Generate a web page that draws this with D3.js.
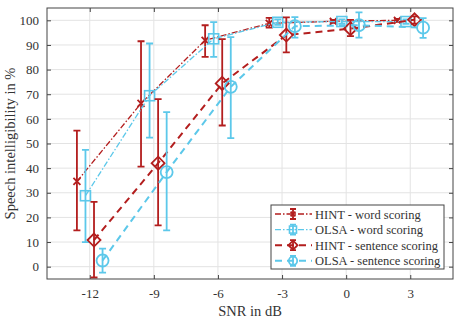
<!DOCTYPE html>
<html><head><meta charset="utf-8">
<script src="https://cdn.jsdelivr.net/npm/d3@7"></script>
<style>body{margin:0;background:#fff}svg{display:block}text{font-family:"Liberation Serif","Times New Roman",serif}</style>
</head><body><svg id="c" width="458" height="322"></svg>
<script>
const snr = [-12, -9, -6, -3, 0, 3];
const xTicks = [-12, -9, -6, -3, 0, 3];
const yTicks = [0, 10, 20, 30, 40, 50, 60, 70, 80, 90, 100];
const seriesNames = ["HINT - word scoring", "OLSA - word scoring", "HINT - sentence scoring", "OLSA - sentence scoring"];
const hintWordMean = [34.6, 66.3, 91.9, 98.8, 99.6, 100];
const hintWordLow  = [14.7, 40.6, 85.2, 97.0, 99.0, 99.4];
const hintWordHigh = [55.2, 91.5, 98.0, 101.0, 100.2, 100.6];
const olsaWordMean = [28.8, 69.4, 92.5, 99.2, 99.5, 99.5];
const olsaWordLow  = [10.0, 52.4, 85.2, 98.2, 98.6, 98.6];
const olsaWordHigh = [47.4, 90.6, 99.3, 100.4, 100.4, 100.4];
const hintSentMean = [10.8, 42.0, 74.4, 94.0, 96.6, 100.2];
const hintSentLow  = [-4.4, 16.8, 57.3, 87.0, 93.6, 98.6];
const hintSentHigh = [26.3, 68.0, 92.4, 101.2, 100.2, 101.6];
const olsaSentMean = [2.5, 38.4, 73.0, 97.6, 98.0, 97.0];
const olsaSentLow  = [-2.4, 14.7, 52.2, 93.0, 93.0, 92.9];
const olsaSentHigh = [7.3, 62.7, 93.2, 101.3, 103.2, 100.9];
const offsets = [-0.6, -0.2, 0.2, 0.6];

const red = "#b31e1e", cyan = "#5cc8ea";
const series = [
  {name: seriesNames[0], mean: hintWordMean, lo: hintWordLow, hi: hintWordHigh, color: red, marker: "x", dash: "6,2,1.5,2", lw: 1.3},
  {name: seriesNames[1], mean: olsaWordMean, lo: olsaWordLow, hi: olsaWordHigh, color: cyan, marker: "square", dash: "6,2,1.5,2", lw: 1.3},
  {name: seriesNames[2], mean: hintSentMean, lo: hintSentLow, hi: hintSentHigh, color: red, marker: "diamond", dash: "7,5", lw: 2},
  {name: seriesNames[3], mean: olsaSentMean, lo: olsaSentLow, hi: olsaSentHigh, color: cyan, marker: "circle", dash: "7,5", lw: 2}
];

const L = 47, R = 453, T = 8, B = 279;
const x = d3.scaleLinear().domain([-14, 5]).range([L, R]);
const y = d3.scaleLinear().domain([-5, 105]).range([B, T]);
const svg = d3.select("#c");

// grid
svg.append("g").selectAll("line").data(xTicks).join("line")
  .attr("x1", d => x(d)).attr("x2", d => x(d)).attr("y1", T).attr("y2", B)
  .attr("stroke", "#e3e3e3").attr("stroke-width", 1);
svg.append("g").selectAll("line").data(yTicks).join("line")
  .attr("y1", d => y(d)).attr("y2", d => y(d)).attr("x1", L).attr("x2", R)
  .attr("stroke", "#e3e3e3").attr("stroke-width", 1);

// axes
const axB = d3.axisBottom(x).tickValues(xTicks).tickSizeInner(-4).tickSizeOuter(0).tickPadding(10).tickFormat(d => (d < 0 ? "-" : "") + Math.abs(d));
const axT = d3.axisTop(x).tickValues(xTicks).tickSizeInner(-4).tickSizeOuter(0).tickFormat("");
const axL = d3.axisLeft(y).tickValues(yTicks).tickSizeInner(-4).tickSizeOuter(0).tickPadding(8);
const axR = d3.axisRight(y).tickValues(yTicks).tickSizeInner(-4).tickSizeOuter(0).tickFormat("");
function style(g){
  g.attr("font-family", "Liberation Serif, serif");
  g.select(".domain").remove();
  g.selectAll("line").attr("stroke", "#444");
  g.selectAll("text").attr("fill", "#333").style("font-size", "13px");
}
svg.append("g").attr("transform", `translate(0,${B})`).call(axB).call(style);
svg.append("g").attr("transform", `translate(0,${T})`).call(axT).call(style);
svg.append("g").attr("transform", `translate(${L},0)`).call(axL).call(style);
svg.append("g").attr("transform", `translate(${R},0)`).call(axR).call(style);

svg.append("clipPath").attr("id", "clip").append("rect").attr("x", L).attr("y", T).attr("width", R - L).attr("height", B - T);
const plot = svg.append("g").attr("clip-path", "url(#clip)");

function drawMarker(g, type, cx, cy, color, s) {
  if (type === "x") {
    g.append("path").attr("d", `M${cx-s},${cy-s}L${cx+s},${cy+s}M${cx-s},${cy+s}L${cx+s},${cy-s}`)
      .attr("stroke", color).attr("stroke-width", 1.8).attr("fill", "none");
  } else if (type === "square") {
    g.append("rect").attr("x", cx - s).attr("y", cy - s).attr("width", 2*s).attr("height", 2*s)
      .attr("stroke", color).attr("stroke-width", 1.6).attr("fill", "none");
  } else if (type === "diamond") {
    g.append("path").attr("d", `M${cx},${cy-s}L${cx+s},${cy}L${cx},${cy+s}L${cx-s},${cy}Z`)
      .attr("stroke", color).attr("stroke-width", 1.8).attr("fill", "none");
  } else {
    g.append("circle").attr("cx", cx).attr("cy", cy).attr("r", s)
      .attr("stroke", color).attr("stroke-width", 1.8).attr("fill", "none");
  }
}
const msize = {x: 3.5, square: 5, diamond: 6.5, circle: 6};

series.forEach((s, si) => {
  const g = plot.append("g");
  const pts = snr.map((v, i) => [x(v + offsets[si]), y(s.mean[i])]);
  g.append("path").attr("d", d3.line()(pts)).attr("fill", "none")
    .attr("stroke", s.color).attr("stroke-width", s.lw).attr("stroke-dasharray", s.dash);
  snr.forEach((v, i) => {
    const cx = x(v + offsets[si]);
    const y1 = y(s.lo[i]), y2 = y(s.hi[i]);
    g.append("path").attr("d", `M${cx},${y1}L${cx},${y2}M${cx-3.5},${y1}L${cx+3.5},${y1}M${cx-3.5},${y2}L${cx+3.5},${y2}`)
      .attr("stroke", s.color).attr("stroke-width", 1.8).attr("fill", "none");
    drawMarker(g, s.marker, cx, y(s.mean[i]), s.color, msize[s.marker]);
  });
});

// frame
svg.append("rect").attr("x", L).attr("y", T).attr("width", R - L).attr("height", B - T)
  .attr("fill", "none").attr("stroke", "#444").attr("stroke-width", 1);

// labels
svg.append("text").attr("x", (L + R) / 2).attr("y", 316).attr("text-anchor", "middle")
  .attr("fill", "#333").style("font-size", "14.5px").text("SNR in dB");
svg.append("text").attr("transform", `translate(15,${(T + B) / 2}) rotate(-90)`).attr("text-anchor", "middle")
  .attr("fill", "#333").style("font-size", "14.5px").text("Speech intelligibility in %");

// legend
const lg = svg.append("g");
lg.append("rect").attr("x", 271).attr("y", 205).attr("width", 173).attr("height", 64)
  .attr("fill", "#fff").attr("stroke", "#444").attr("stroke-width", 1);
series.forEach((s, i) => {
  const ly = 214 + i * 15.6;
  lg.append("line").attr("x1", 275).attr("x2", 312).attr("y1", ly).attr("y2", ly)
    .attr("stroke", s.color).attr("stroke-width", s.lw).attr("stroke-dasharray", s.dash);
  lg.append("path").attr("d", `M293,${ly-5}L293,${ly+5}M290,${ly-5}L296,${ly-5}M290,${ly+5}L296,${ly+5}`)
    .attr("stroke", s.color).attr("stroke-width", 1.8);
  drawMarker(lg, s.marker, 293, ly, s.color, msize[s.marker] * 0.7);
  lg.append("text").attr("x", 315).attr("y", ly + 4.5).attr("fill", "#333").style("font-size", "12.5px").text(s.name);
});
</script></body></html>
